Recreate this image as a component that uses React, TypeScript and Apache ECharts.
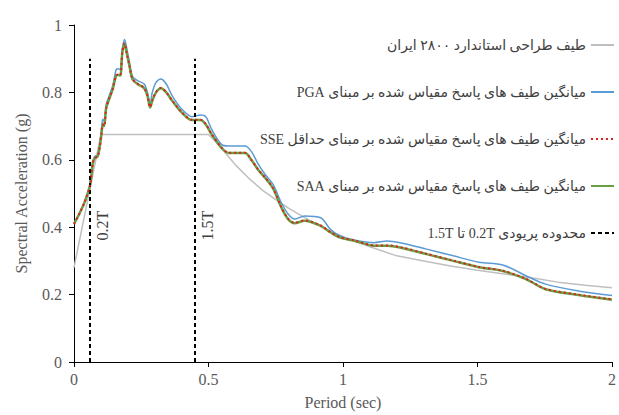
import React, { useEffect, useRef } from "react";
import * as echarts from "echarts";

// Period (sec) sample points for the scaled mean spectra
const periods = [0, 0.02, 0.04, 0.06, 0.07, 0.077, 0.088, 0.095, 0.102, 0.107, 0.112, 0.12, 0.133, 0.144, 0.157, 0.165, 0.172, 0.18, 0.188, 0.195, 0.206, 0.217, 0.236, 0.261, 0.273, 0.283, 0.291, 0.305, 0.323, 0.343, 0.365, 0.401, 0.438, 0.47, 0.49, 0.512, 0.549, 0.575, 0.605, 0.636, 0.659, 0.685, 0.71, 0.74, 0.77, 0.796, 0.82, 0.857, 0.917, 0.953, 0.99, 1.041, 1.115, 1.164, 1.212, 1.311, 1.41, 1.506, 1.594, 1.68, 1.753, 1.875, 2.0];

const pgaValues = [0.41, 0.44, 0.477, 0.53, 0.595, 0.61, 0.615, 0.64, 0.69, 0.72, 0.715, 0.765, 0.795, 0.82, 0.868, 0.87, 0.868, 0.93, 0.957, 0.935, 0.889, 0.848, 0.835, 0.825, 0.8, 0.765, 0.8, 0.83, 0.84, 0.825, 0.79, 0.75, 0.728, 0.733, 0.728, 0.69, 0.645, 0.641, 0.641, 0.641, 0.625, 0.587, 0.557, 0.527, 0.474, 0.439, 0.424, 0.433, 0.428, 0.394, 0.374, 0.362, 0.354, 0.359, 0.354, 0.335, 0.315, 0.296, 0.288, 0.256, 0.231, 0.211, 0.197];

const sseValues = [0.41, 0.44, 0.476, 0.526, 0.59, 0.605, 0.61, 0.635, 0.676, 0.705, 0.7, 0.755, 0.786, 0.81, 0.851, 0.853, 0.851, 0.921, 0.946, 0.921, 0.881, 0.841, 0.826, 0.813, 0.79, 0.756, 0.776, 0.801, 0.813, 0.8, 0.776, 0.741, 0.719, 0.719, 0.706, 0.676, 0.636, 0.621, 0.621, 0.621, 0.6, 0.571, 0.548, 0.516, 0.461, 0.425, 0.413, 0.42, 0.405, 0.386, 0.37, 0.361, 0.346, 0.346, 0.341, 0.321, 0.301, 0.282, 0.271, 0.247, 0.217, 0.2, 0.186];

const saaValues = [0.41, 0.44, 0.475, 0.525, 0.59, 0.605, 0.61, 0.635, 0.675, 0.705, 0.7, 0.755, 0.785, 0.81, 0.85, 0.852, 0.85, 0.92, 0.945, 0.92, 0.88, 0.84, 0.825, 0.812, 0.79, 0.755, 0.775, 0.8, 0.812, 0.8, 0.775, 0.74, 0.718, 0.718, 0.705, 0.675, 0.635, 0.62, 0.62, 0.62, 0.6, 0.57, 0.547, 0.515, 0.46, 0.424, 0.412, 0.419, 0.404, 0.385, 0.369, 0.36, 0.345, 0.345, 0.34, 0.32, 0.3, 0.281, 0.27, 0.246, 0.216, 0.199, 0.185];

// Iranian Standard 2800 design spectrum
const designPeriods = [0, 0.1, 0.5, 0.525, 0.55, 0.6, 0.65, 0.7, 0.75, 0.8, 0.85, 0.9, 0.95, 1.0, 1.1, 1.2, 1.3, 1.4, 1.5, 1.6, 1.7, 1.8, 1.9, 2.0];
const designValues = [0.28, 0.675, 0.675, 0.655, 0.632, 0.585, 0.545, 0.51, 0.482, 0.455, 0.432, 0.41, 0.39, 0.372, 0.342, 0.315, 0.3, 0.285, 0.272, 0.261, 0.25, 0.237, 0.228, 0.22];

// Period range 0.2T – 1.5T
const rangeBounds = [0.06, 0.45];
const rangeLabels = ["0.2T", "1.5T"];
const rangeTop = 0.9;
const rangeLabelLevel = 0.405;

const RLE = "\u202B";
const PDF = "\u202C";
const seriesNames = [
  "طیف طراحی استاندارد ۲۸۰۰ ایران",
  "میانگین طیف های پاسخ مقیاس شده بر مبنای PGA",
  "میانگین طیف های پاسخ مقیاس شده بر مبنای حداقل SSE",
  "میانگین طیف های پاسخ مقیاس شده بر مبنای SAA",
  "محدوده پریودی 0.2T تا 1.5T",
].map((s) => RLE + s + PDF);

const FONT = "'Liberation Serif', 'DejaVu Sans', serif";

export default function App() {
  const ref = useRef<HTMLDivElement>(null);
  useEffect(() => {
    document.body.style.margin = "0";
    if (!ref.current) return;
    const chart = echarts.init(ref.current, null, { renderer: "svg" });
    const zip = (xs: number[], ys: number[]) => xs.map((x, i) => [x, ys[i]]);
    chart.setOption({
      animation: false,
      textStyle: { fontFamily: FONT },
      grid: { left: 74, right: 2, top: 25, bottom: 52, containLabel: false },
      legend: {
        orient: "vertical",
        right: 4,
        top: 38,
        padding: 0,
        align: "right",
        itemGap: 33,
        itemWidth: 23,
        itemHeight: 14,
        itemStyle: { opacity: 0, color: "rgba(0,0,0,0)", borderWidth: 0 },
        textStyle: { fontSize: 14, color: "#404040", fontFamily: FONT },
        data: seriesNames,
      },
      xAxis: {
        type: "value",
        min: 0,
        max: 2,
        interval: 0.5,
        name: "Period (sec)",
        nameLocation: "middle",
        nameGap: 32,
        nameTextStyle: { fontSize: 16, color: "#595959", fontFamily: FONT },
        axisLine: { show: true, onZero: false, lineStyle: { color: "#000", width: 1 } },
        axisTick: { show: true, length: 5, lineStyle: { color: "#000" } },
        axisLabel: { fontSize: 16, color: "#595959", margin: 9, fontFamily: FONT },
        splitLine: { show: false },
      },
      yAxis: {
        type: "value",
        min: 0,
        max: 1,
        interval: 0.2,
        name: "Spectral Acceleration (g)",
        nameLocation: "middle",
        nameGap: 45,
        nameTextStyle: { fontSize: 16, color: "#595959", fontFamily: FONT },
        axisLine: { show: true, lineStyle: { color: "#000", width: 1 } },
        axisTick: { show: true, length: 5, lineStyle: { color: "#000" } },
        axisLabel: { fontSize: 16, color: "#595959", margin: 12, fontFamily: FONT },
        splitLine: { show: false },
      },
      series: [
        {
          name: seriesNames[0],
          type: "line",
          symbol: "none",
          smooth: false,
          z: 2,
          lineStyle: { color: "#BFBFBF", width: 1.5 },
          itemStyle: { color: "#BFBFBF" },
          data: zip(designPeriods, designValues),
        },
        {
          name: seriesNames[1],
          type: "line",
          symbol: "none",
          smooth: 0.3,
          z: 3,
          lineStyle: { color: "#5B9BD5", width: 1.5 },
          itemStyle: { color: "#5B9BD5" },
          data: zip(periods, pgaValues),
        },
        {
          name: seriesNames[2],
          type: "line",
          symbol: "none",
          smooth: 0.3,
          z: 5,
          lineStyle: { color: "#E0201B", width: 2, type: [2, 3] },
          itemStyle: { color: "#E0201B" },
          data: zip(periods, sseValues),
        },
        {
          name: seriesNames[3],
          type: "line",
          symbol: "none",
          smooth: 0.3,
          z: 4,
          lineStyle: { color: "#6A9E45", width: 2.5 },
          itemStyle: { color: "#6A9E45" },
          data: zip(periods, saaValues),
        },
        {
          name: seriesNames[4],
          type: "line",
          symbol: "none",
          z: 6,
          lineStyle: { color: "#000", width: 2, type: [4, 3] },
          itemStyle: { color: "#000" },
          data: [],
          markLine: {
            silent: true,
            symbol: "none",
            lineStyle: { color: "#000", width: 2, type: [4, 3] },
            label: { show: false },
            data: rangeBounds.map((b) => [{ coord: [b, 0] }, { coord: [b, rangeTop] }]),
          },
        },
      ],
    });
    const pts = rangeBounds.map(
      (b) => chart.convertToPixel({ xAxisIndex: 0, yAxisIndex: 0 }, [b, rangeLabelLevel]) as number[]
    );
    chart.setOption({
      graphic: pts.map((p, i) => ({
        type: "text",
        x: p[0] + 12.5,
        y: p[1],
        rotation: Math.PI / 2,
        z: 10,
        style: {
          text: rangeLabels[i],
          fill: "#404040",
          font: `16px ${FONT}`,
          align: "center",
          verticalAlign: "middle",
        },
      })),
    });
    return () => chart.dispose();
  }, []);
  return <div ref={ref} style={{ width: 619, height: 415 }} />;
}
